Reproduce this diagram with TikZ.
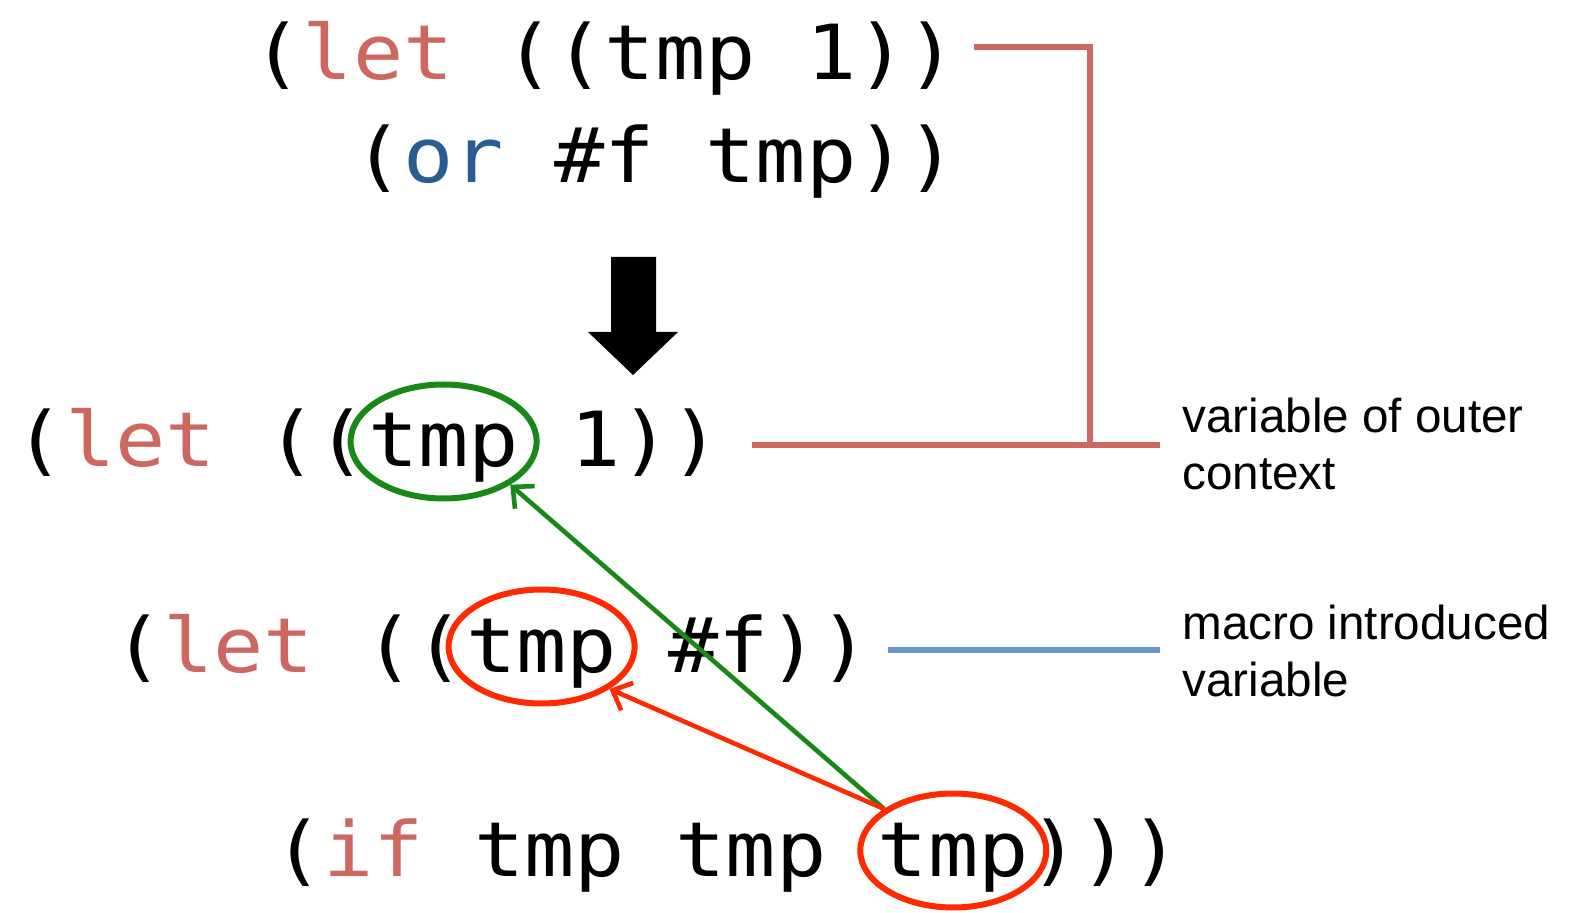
\documentclass[tikz,border=0pt]{standalone}
\usepackage{fontspec}
\setmainfont{Liberation Sans}
\newfontfamily\codefont[FakeStretch=1.1]{DejaVu Sans Mono}
\usepackage{tikz}
\usetikzlibrary{positioning}
\usetikzlibrary{shapes.geometric, arrows.meta}
\usetikzlibrary{calc}

\definecolor{letred}{RGB}{205,104,97}
\definecolor{orblue}{RGB}{41,92,147}
\definecolor{linkblue}{RGB}{103,152,207}
\definecolor{ringgreen}{RGB}{24,136,24}
\definecolor{ringred}{RGB}{255,42,0}

\newcommand{\kw}[1]{\textcolor{letred}{#1}}

\tikzstyle{code} = [inner sep=0pt, anchor=base west, font=\codefont\fontsize{38}{46}\selectfont]
\tikzstyle{note} = [inner sep=0pt, anchor=base west, align=left, font=\fontsize{23.8}{29}\selectfont]
\tikzstyle{ring} = [draw, ellipse, line width=3pt, minimum width=93pt, minimum height=57pt, inner sep=0pt]
\tikzstyle{bind} = [line width=2.3pt, -{Straight Barb[length=8pt,width=15pt]}]
\tikzstyle{bracket} = [line width=2.8pt, letred]

\begin{document}
\begin{tikzpicture}[x=0.5pt, y=0.5pt]
  \useasboundingbox (0,0) rectangle (1571,912);

  % before expansion
  \node[code] (row1) at (252,832) {(\kw{let} ((tmp 1))};
  \node[code] (row2) at (352.8,729) {(\textcolor{orblue}{or} \#f tmp))};

  % expansion arrow
  \fill (611,655) -- (656,655) -- (656,580) -- (678,580) -- (633,537)
        -- (588,580) -- (611,580) -- cycle;

  % after expansion
  \node[code] (row3) at (14.6,445) {(\kw{let} ((};
  \node[code] (tmp3) at (row3.base east) {tmp};
  \node[code] (row3end) at (tmp3.base east) {\ 1))};

  \node[code] (row4) at (112.6,240) {(\kw{let} ((};
  \node[code] (tmp4) at (row4.base east) {tmp};
  \node[code] (row4end) at (tmp4.base east) {\ \#f))};

  \node[code] (row5) at (272.6,36) {(\kw{if} tmp tmp\hphantom{x}};
  \node[code] (tmp5) at (row5.base east) {tmp};
  \node[code] (row5end) at (tmp5.base east) {)))};

  % rings
  \node[ring, ringgreen] (ring3) at ($(tmp3.base)+(0,25.5)$) {};
  \node[ring, ringred] (ring4) at ($(tmp4.base)+(0,25.5)$) {};
  \node[ring, ringred] (ring5) at ($(tmp5.base)+(0,25.5)$) {};

  \draw[bind, ringgreen] (ring5.149) -- (ring3.-33);
  \draw[bind, ringred] (ring5.149) -- (ring4.-32);

  % Labels
  \node[note] (outer) at (1182,422) {variable of outer\\context};
  \node[note] (macro) at (1182,215) {macro introduced\\variable};

  \coordinate (join) at (1090,467);
  \draw[bracket] ($(row1.base east)+(17,33)$) -| (join);
  \draw[bracket] ($(row3end.base east)+(30,22)$) -- (join) -- ($(outer.west |- join)+(-22,0)$);
  \draw[line width=2.8pt, linkblue] ($(row4end.base east)+(18,22)$)
        -- ($(row4end.base east -| macro.west)+(-22,22)$);
\end{tikzpicture}
\end{document}
